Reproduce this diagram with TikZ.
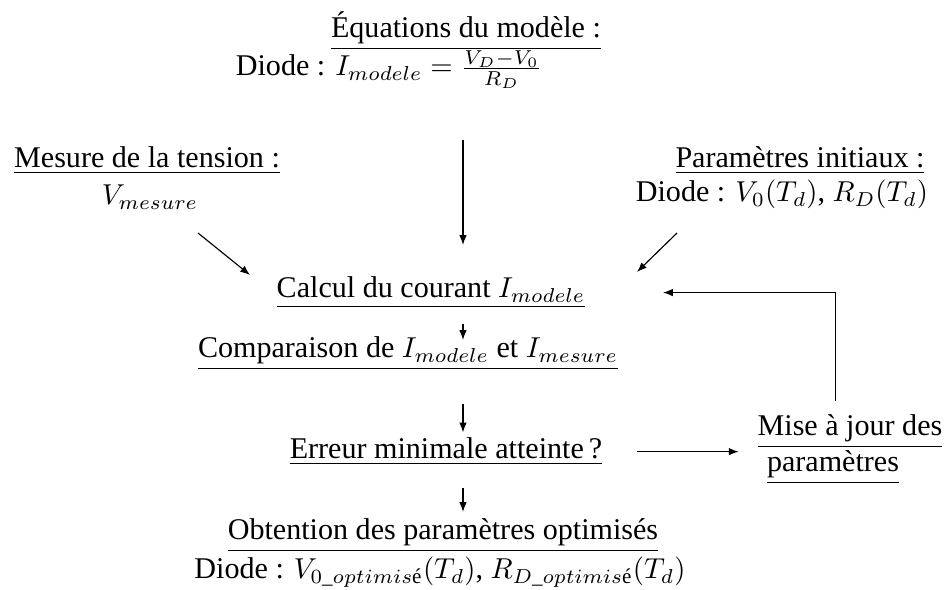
\documentclass[tikz,border=0pt]{standalone}
\usepackage{amsmath}
\usepackage{fontspec}
\setmainfont{Liberation Serif}[Scale=1.045]
\usetikzlibrary{positioning,arrows.meta}

\begin{document}
\begin{tikzpicture}[
x=0.0122cm, y=-0.0122cm,
texte/.style={anchor=base, inner sep=0pt, outer sep=0pt},
fleche/.style={-{Latex[length=3.4pt,width=2.6pt]}, line width=0.4pt}
]
\useasboundingbox (0,0) rectangle (944,590);

% modele
\node[texte] (eqtitre) at (466,38) {\underline{Équations du modèle :}};
\node[texte] (eqdiode) at (389,76) {Diode : $I_{modele} = \frac{V_D-V_0}{R_D}$};

% entrees
\node[texte] (mesure) at (147,168) {\underline{Mesure de la tension :}};
\node[texte] (vmes) at (150,205) {$V_{mesure}$};
\node[texte] (init) at (800,168) {\underline{Paramètres initiaux :}};
\node[texte] (initdiode) at (782,202) {Diode : $V_0(T_d)$, $R_D(T_d)$};

% boucle
\node[texte] (calcul) at (431,298) {\underline{Calcul du courant $I_{modele}$}};
\node[texte] (comp) at (408,358) {\underline{Comparaison de $I_{modele}$ et $I_{mesure}$}};
\node[texte] (erreur) at (446,459) {\underline{Erreur minimale atteinte\,?}};
\node[texte] (maj) at (850,436) {\underline{Mise à jour des}};
\node[texte] (majbis) at (833,472) {\underline{paramètres}};
\node[texte] (resultat) at (443,540) {\underline{Obtention des paramètres optimisés}};
\node[texte] (resdiode) at (440,579) {Diode : $V_{0\_optimis\text{é}}(T_d)$, $R_{D\_optimis\text{é}}(T_d)$};

% fleches libres
\coordinate (h1) at (463,140);
\coordinate (h2) at (463,245);
\coordinate (g1) at (198,233);
\coordinate (g2) at (250,275);
\coordinate (d1) at (677,233);
\coordinate (d2) at (637,272);
\coordinate (axe) at (463,0);
\draw[fleche] (h1) -- (h2);
\draw[fleche] (g1) -- (g2);
\draw[fleche] (d1) -- (d2);

% chaine
\draw[fleche, shorten <=5.5pt, shorten >=-1pt] (axe |- calcul.south) -- (axe |- comp.north);
\draw[fleche, shorten <=11.8pt, shorten >=2pt] (axe |- comp.south) -- (axe |- erreur.north);
\draw[fleche, shorten <=8pt, shorten >=2.5pt] (axe |- erreur.south) -- (axe |- resultat.north);
\draw[fleche, shorten <=12pt, shorten >=6.6pt] (erreur.east) -- (erreur.east -| maj.west);
\draw[fleche, shorten <=5pt, shorten >=27pt] ([xshift=1pt]majbis |- maj.north) |- (calcul.east);
\end{tikzpicture}
\end{document}
